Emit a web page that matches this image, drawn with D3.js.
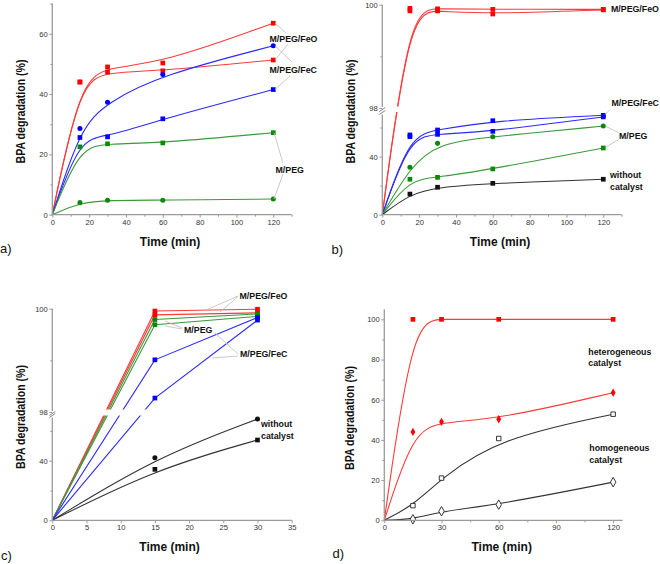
<!DOCTYPE html>
<html><head><meta charset="utf-8">
<script src="https://cdn.jsdelivr.net/npm/d3@7"></script>
<style>body{margin:0;background:#fff} svg{display:block;font-family:"Liberation Sans",Arial,sans-serif}</style>
</head><body><svg id="c" width="660" height="564"></svg>
<script>
// ---------- data ----------
const timeABD = [0, 15, 30, 60, 120];
const timeC = [0, 15, 30];
// panel a
const aFeO_sq = [0, 44, 49, 50.3, 63.5];
const aFeO_ci = [0, 44, 47.3, 47.7, 51.3];
const aFeC_ci = [0, 28.6, 37.3, 46.5, 56];
const aFeC_sq = [0, 25.6, 25.8, 31.8, 41.5];
const aPEG_sq = [0, 22.5, 23.5, 23.8, 27.2];
const aPEG_ci = [0, 4, 4.8, 4.8, 5.2];
// panel b
const bFeO_1 = [0, 99.93, 99.92, 99.91, 99.91];
const bFeO_2 = [0, 99.88, 99.88, 99.82, 99.9];
const bFeC_1 = [0, 54.9, 58.3, 64.7, 68.4];
const bFeC_2 = [0, 53.7, 55.3, 57.4, 67.3];
const bPEG_ci = [0, 32.6, 49.1, 53.7, 61];
const bPEG_sq = [0, 24.4, 25.7, 31.5, 45.9];
const bNone = [0, 14.2, 18.9, 21.6, 24.4];
// panel c
const cFeO_1 = [0, 99.955, 99.99];
const cFeO_2 = [0, 99.88, 99.92];
const cPEG_1 = [0, 99.79, 99.9];
const cPEG_2 = [0, 99.69, 99.85];
const cFeC_1 = [0, 99.01, 99.83];
const cFeC_2 = [0, 98.27, 99.78];
const cNone_ci = [0, 42, 68];
const cNone_sq = [0, 34.2, 53.9];
// panel d
const dHetero_1 = [0, 100, 100, 100, 100];
const dHetero_2 = [0, 44, 49, 50.3, 63.5];
const dHomo_1 = [0, 7.3, 21, 40.7, 52.8];
const dHomo_2 = [0, 0.5, 4.5, 7.8, 19];
// ticks
const ticksAB_x = [0, 20, 40, 60, 80, 100, 120];
const ticksAB_xMinor = [10, 30, 50, 70, 90, 110, 130];
const ticksA_y = [0, 20, 40, 60];
const ticksA_yMinor = [10, 30, 50, 70];
const ticksBC_yLow = [0, 40];
const ticksBC_yLowMinor = [20, 60];
const ticksBC_yHigh = [98, 100];
const ticksBC_yHighMinor = [99];
const ticksC_x = [0, 5, 10, 15, 20, 25, 30, 35];
const ticksD_x = [0, 30, 60, 90, 120];
const ticksD_xMinor = [15, 45, 75, 105];
const ticksD_y = [0, 20, 40, 60, 80, 100];
const ticksD_yMinor = [10, 30, 50, 70, 90];

// ---------- helpers ----------
const svg = d3.select('#c');
const RED = '#ff0000', REDL = '#ff3a3a', BLUE = '#0000ff', BLUEL = '#2a2aff',
      GREEN = '#078a07', GREENL = '#3a9a3a', BLK = '#111', BLKL = '#333';
const AX = '#9a9a9a';

function sym(type, size) { return d3.symbol().type(type).size(size)(); }
const SQ = sym(d3.symbolSquare, 22), CI = sym(d3.symbolCircle, 20),
      DI = sym(d3.symbolDiamond, 20), DIo = sym(d3.symbolDiamond, 26), SQo = sym(d3.symbolSquare, 20);

function line(g, xs, ys, t, v, color, curve) {
  const pts = t.map((d, i) => [xs(d), ys(v[i])]);
  g.append('path').attr('d', d3.line().curve(curve || d3.curveBasis)(pts))
    .attr('fill', 'none').attr('stroke', color).attr('stroke-width', 1.1);
}
function marks(g, xs, ys, t, v, shape, fill, stroke) {
  const pts = t.map((d, i) => [xs(d), ys(v[i])]).slice(1);
  g.selectAll(null).data(pts).join('path')
    .attr('transform', d => `translate(${d[0]},${d[1]})`)
    .attr('d', shape).attr('fill', fill)
    .attr('stroke', stroke || 'none').attr('stroke-width', stroke ? 0.9 : 0);
}
function xAxis(g, xs, y0, major, minor) {
  const a = g.append('g').attr('transform', `translate(0,${y0})`);
  a.call(d3.axisBottom(xs).tickValues(major).tickSize(3).tickPadding(1.5).tickSizeOuter(0));
  a.select('.domain').remove();
  const m = g.append('g').attr('transform', `translate(0,${y0})`);
  m.call(d3.axisBottom(xs).tickValues(minor).tickSize(2).tickFormat(''));
  m.select('.domain').remove();
  g.append('line').attr('x1', xs.range()[0]).attr('x2', xs.range()[1])
    .attr('y1', y0).attr('y2', y0).attr('stroke', AX).attr('stroke-width', 1.3);
}
function yAxis(g, ys, x0, major, minor) {
  const a = g.append('g').attr('transform', `translate(${x0},0)`);
  a.call(d3.axisLeft(ys).tickValues(major).tickSize(3).tickPadding(1.5));
  a.select('.domain').remove();
  const m = g.append('g').attr('transform', `translate(${x0},0)`);
  m.call(d3.axisLeft(ys).tickValues(minor).tickSize(2).tickFormat(''));
  m.select('.domain').remove();
}
function styleAxes(g) {
  g.selectAll('.tick line').attr('stroke', AX);
  g.selectAll('.tick text').attr('font-size', 7.6).attr('fill', '#333')
    .attr('font-family', '"Liberation Sans",Arial,sans-serif');
}
function label(g, x, y, txt, size) {
  g.append('text').attr('x', x).attr('y', y).text(txt)
    .attr('font-size', size || 8.8).attr('font-weight', 'bold').attr('fill', '#111');
}
function leader(g, x1, y1, x2, y2) {
  g.append('line').attr('x1', x1).attr('y1', y1).attr('x2', x2).attr('y2', y2)
    .attr('stroke', '#bdbdbd').attr('stroke-width', 0.8);
}
function titles(g, xc, xb, yc, yx, panel, px, py) {
  g.append('text').attr('x', xc).attr('y', xb).attr('text-anchor', 'middle')
    .attr('font-size', 12).attr('font-weight', 'bold').attr('fill', '#111').text('Time (min)');
  g.append('text').attr('transform', `translate(${yx},${yc}) rotate(-90)`).attr('text-anchor', 'middle')
    .attr('font-size', 12).attr('font-weight', 'bold').attr('fill', '#111')
    .attr('textLength', 104).attr('lengthAdjust', 'spacingAndGlyphs').text('BPA degradation (%)');
  g.append('text').attr('x', px).attr('y', py).attr('font-size', 13).attr('fill', '#111').text(panel);
}
function breakAxis(g, ys, x0, yBot, yTop) {
  const yb = ys(70), yt = ys(98);
  g.append('line').attr('x1', x0).attr('x2', x0).attr('y1', yBot).attr('y2', yb + 1.5).attr('stroke', AX).attr('stroke-width', 1.3);
  g.append('line').attr('x1', x0).attr('x2', x0).attr('y1', yt - 1).attr('y2', yTop).attr('stroke', AX).attr('stroke-width', 1.3);
  [yb - 0.5, yt + 1.5].forEach(y => g.append('line').attr('x1', x0 - 3).attr('x2', x0 + 3)
    .attr('y1', y + 2).attr('y2', y - 2).attr('stroke', '#777').attr('stroke-width', 0.9));
}

// ---------- panel a ----------
{
  const g = svg.append('g');
  const x = d3.scaleLinear().domain([0, 130]).range([52.3, 291.7]);
  const y = d3.scaleLinear().domain([0, 70]).range([214.7, 3.6]);
  line(g, x, y, timeABD, aFeO_sq, REDL); line(g, x, y, timeABD, aFeO_ci, REDL);
  line(g, x, y, timeABD, aFeC_ci, BLUEL); line(g, x, y, timeABD, aFeC_sq, BLUEL);
  line(g, x, y, timeABD, aPEG_sq, GREENL); line(g, x, y, timeABD, aPEG_ci, GREENL);
  marks(g, x, y, timeABD, aFeO_sq, SQ, RED); marks(g, x, y, timeABD, aFeO_ci, SQ, RED);
  marks(g, x, y, timeABD, aFeC_ci, CI, BLUE); marks(g, x, y, timeABD, aFeC_sq, SQ, BLUE);
  marks(g, x, y, timeABD, aPEG_sq, SQ, GREEN); marks(g, x, y, timeABD, aPEG_ci, CI, GREEN);
  xAxis(g, x, 214.7, ticksAB_x, ticksAB_xMinor);
  yAxis(g, y, 52.3, ticksA_y, ticksA_yMinor);
  g.append('line').attr('x1', 52.3).attr('x2', 52.3).attr('y1', 214.7).attr('y2', 3.6).attr('stroke', AX).attr('stroke-width', 1.3);
  styleAxes(g);
  leader(g, 275, y(63.5), 286, 33); leader(g, 275, y(56), 292, 62);
  leader(g, 275, y(51.3), 288, 44); leader(g, 275, y(41.5), 290, 76);
  leader(g, 274, y(27.2), 283, 163); leader(g, 274, y(5.2), 283, 174);
  label(g, 269.5, 42, 'M/PEG/FeO'); label(g, 269.5, 72.5, 'M/PEG/FeC'); label(g, 275.5, 172.5, 'M/PEG');
  titles(g, 170, 246, 111.5, 24.5, 'a)', 0, 253);
}
// ---------- panel b ----------
{
  const g = svg.append('g');
  const x = d3.scaleLinear().domain([0, 130]).range([382.3, 621.7]);
  const y = d3.scaleLinear().domain([0, 70, 98, 100]).range([214.7, 113, 108, 4.7]);
  line(g, x, y, timeABD, bFeO_1, REDL); line(g, x, y, timeABD, bFeO_2, REDL);
  line(g, x, y, timeABD, bFeC_1, BLUEL); line(g, x, y, timeABD, bFeC_2, BLUEL);
  line(g, x, y, timeABD, bPEG_ci, GREENL); line(g, x, y, timeABD, bPEG_sq, GREENL);
  line(g, x, y, timeABD, bNone, BLKL);
  g.append('rect').attr('x', 384).attr('y', 106.5).attr('width', 236).attr('height', 5.5).attr('fill', '#fff');
  marks(g, x, y, timeABD, bFeO_1, SQ, RED); marks(g, x, y, timeABD, bFeO_2, SQ, RED);
  marks(g, x, y, timeABD, bFeC_1, SQ, BLUE); marks(g, x, y, timeABD, bFeC_2, SQ, BLUE);
  marks(g, x, y, timeABD, bPEG_ci, CI, GREEN); marks(g, x, y, timeABD, bPEG_sq, SQ, GREEN);
  marks(g, x, y, timeABD, bNone, SQ, BLK);
  xAxis(g, x, 214.7, ticksAB_x, ticksAB_xMinor);
  yAxis(g, y, 382.3, ticksBC_yLow.concat(ticksBC_yHigh), ticksBC_yLowMinor.concat(ticksBC_yHighMinor));
  breakAxis(g, y, 382.3, 214.7, 4.7);
  styleAxes(g);
  leader(g, 610, 109.5, 605, 114.5);
  leader(g, 618.5, 132.7, 606, 126.5); leader(g, 618.5, 139.5, 606, 147);
  label(g, 611, 12.2, 'M/PEG/FeO'); label(g, 611.5, 106, 'M/PEG/FeC'); label(g, 619, 139.2, 'M/PEG');
  label(g, 610, 178.2, 'without'); label(g, 610, 190, 'catalyst');
  titles(g, 500, 246, 111.5, 354.5, 'b)', 331.5, 254);
}
// ---------- panel c ----------
{
  const g = svg.append('g');
  const x = d3.scaleLinear().domain([0, 35]).range([52.3, 291.7]);
  const y = d3.scaleLinear().domain([0, 70, 98, 100]).range([520.3, 416, 412, 308.7]);
  const L = d3.curveLinear;
  line(g, x, y, timeC, cFeO_1, REDL, L); line(g, x, y, timeC, cFeO_2, REDL, L);
  line(g, x, y, timeC, cPEG_1, GREENL, L); line(g, x, y, timeC, cPEG_2, GREENL, L);
  line(g, x, y, timeC, cFeC_1, BLUEL, L); line(g, x, y, timeC, cFeC_2, BLUEL, L);
  line(g, x, y, timeC, cNone_ci, BLKL); line(g, x, y, timeC, cNone_sq, BLKL);
  g.append('rect').attr('x', 54).attr('y', 409.5).attr('width', 236).attr('height', 6).attr('fill', '#fff');
  marks(g, x, y, timeC, cFeO_1, SQ, RED); marks(g, x, y, timeC, cFeO_2, SQ, RED);
  marks(g, x, y, timeC, cPEG_1, SQ, GREEN); marks(g, x, y, timeC, cPEG_2, SQ, GREEN);
  marks(g, x, y, timeC, cFeC_1, SQ, BLUE); marks(g, x, y, timeC, cFeC_2, SQ, BLUE);
  marks(g, x, y, timeC, cNone_ci, CI, BLK); marks(g, x, y, timeC, cNone_sq, SQ, BLK);
  xAxis(g, x, 520.3, ticksC_x, []);
  yAxis(g, y, 52.3, ticksBC_yLow.concat(ticksBC_yHigh), ticksBC_yLowMinor.concat(ticksBC_yHighMinor));
  breakAxis(g, y, 52.3, 520.3, 308.7);
  styleAxes(g);
  leader(g, 238, 296, 205, 310.5); leader(g, 238, 296.5, 220, 312);
  leader(g, 182, 328, 165, 321); leader(g, 182, 329, 165, 326);
  leader(g, 238, 354, 215, 333); leader(g, 238, 356, 212, 358);
  label(g, 239.5, 299.2, 'M/PEG/FeO'); label(g, 184, 333, 'M/PEG'); label(g, 240, 357.2, 'M/PEG/FeC');
  label(g, 261, 427, 'without'); label(g, 261, 439, 'catalyst');
  titles(g, 169.5, 551, 417, 24.5, 'c)', 1, 560);
}
// ---------- panel d ----------
{
  const g = svg.append('g');
  const x = d3.scaleLinear().domain([0, 125]).range([384.3, 622.7]);
  const y = d3.scaleLinear().domain([0, 105]).range([520.3, 309.3]);
  line(g, x, y, timeABD, dHetero_1, REDL); line(g, x, y, timeABD, dHetero_2, REDL);
  line(g, x, y, timeABD, dHomo_1, BLKL); line(g, x, y, timeABD, dHomo_2, BLKL);
  marks(g, x, y, timeABD, dHetero_1, SQ, RED); marks(g, x, y, timeABD, dHetero_2, DI, RED);
  marks(g, x, y, timeABD, dHomo_1, SQo, '#fff', '#222'); marks(g, x, y, timeABD, dHomo_2, DIo, '#fff', '#222');
  xAxis(g, x, 520.3, ticksD_x, ticksD_xMinor);
  yAxis(g, y, 384.3, ticksD_y, ticksD_yMinor);
  g.append('line').attr('x1', 384.3).attr('x2', 384.3).attr('y1', 520.3).attr('y2', 309.3).attr('stroke', AX).attr('stroke-width', 1.3);
  styleAxes(g);
  label(g, 588.3, 355.3, 'heterogeneous'); label(g, 588.3, 365.5, 'catalyst');
  label(g, 589.3, 451.3, 'homogeneous'); label(g, 589.3, 462.7, 'catalyst');
  titles(g, 501.7, 551, 418, 353.5, 'd)', 332.5, 558);
}
</script></body></html>
